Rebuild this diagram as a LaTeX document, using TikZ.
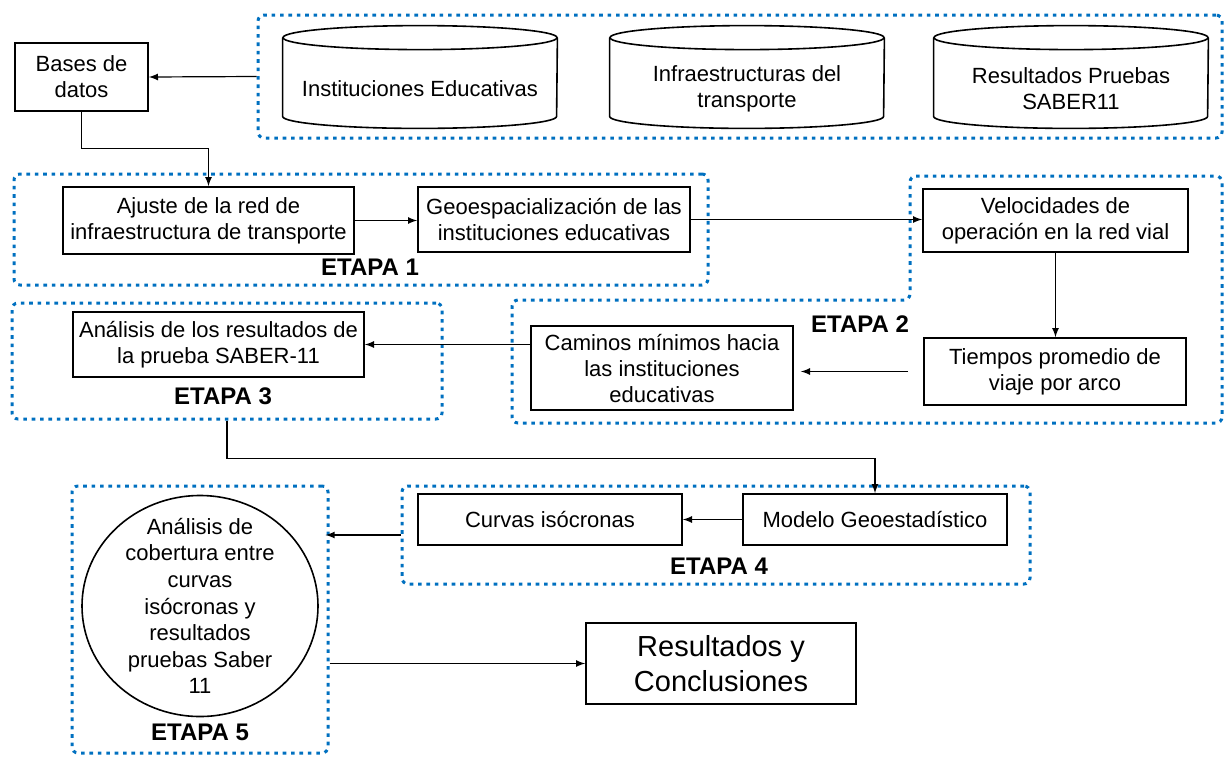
\documentclass[tikz,border=0pt]{standalone}
\usepackage{fontspec}
\setmainfont{Liberation Sans}
\usetikzlibrary{arrows,positioning,shapes.geometric}
\definecolor{etapablue}{HTML}{0070C0}

\begin{document}
\begin{tikzpicture}[x=0.5pt, y=-0.5pt,
font=\fontsize{11}{13}\selectfont,
etapa/.style={draw=etapablue, line width=1.5pt, dash pattern=on 1.8pt off 2.4pt, rounded corners=3pt},
stepbox/.style={rectangle, draw=black, line width=0.8pt, align=center, inner sep=1pt},
dbnode/.style={rectangle, align=center, minimum width=137pt, minimum height=39pt, inner sep=1pt},
etapalabel/.style={font=\fontsize{12}{14}\selectfont\bfseries},
conn/.style={-latex, line width=0.6pt},
]
\useasboundingbox (0,0) rectangle (1224,756);

% contenedores de las etapas
\node[etapa, minimum width=482pt, minimum height=61.5pt] (bd) at (740,76.5) {};
\node[etapa, minimum width=347pt, minimum height=55.5pt] (e1) at (361,229.5) {};
\draw[etapa] (910,176) -- (1222,176) -- (1222,423) -- (512,423) -- (512,300) -- (910,300) -- cycle;
\node[etapa, minimum width=215pt, minimum height=58pt] (e3) at (227,361) {};
\node[etapa, minimum width=314pt, minimum height=49pt] (e4) at (716,535) {};
\node[etapa, minimum width=128pt, minimum height=133.5pt] (e5) at (200,619.5) {};

\node[etapalabel] (lbl1) at (370,267) {ETAPA 1};
\node[etapalabel] (lbl2) at (860,324) {ETAPA 2};
\node[etapalabel] (lbl3) at (223,396) {ETAPA 3};
\node[etapalabel] (lbl4) at (719,566) {ETAPA 4};
\node[etapalabel] (lbl5) at (200,732) {ETAPA 5};

% bases de datos
\node[dbnode] (inst)  at (420,89)  {Instituciones Educativas};
\node[dbnode] (infra) at (747,89)  {Infraestructuras del\\transporte};
\node[dbnode] (saber) at (1071,89) {Resultados Pruebas\\SABER11};

\foreach \db in {inst,infra,saber}{
  \draw[line width=0.8pt] ([yshift=6pt]\db.north west) -- ([yshift=6pt]\db.south west)
    arc[start angle=180, end angle=360, x radius=68.5pt, y radius=6pt]
    -- ([yshift=6pt]\db.north east);
  \draw[line width=0.8pt] ([yshift=6pt]\db.north) ellipse [x radius=68.5pt, y radius=6pt];
}

\node[stepbox, minimum width=66.5pt, minimum height=34pt] (bases) at (81.5,77) {Bases de\\datos};

\node[stepbox, minimum width=145.5pt, minimum height=33.5pt] (ajuste)   at (208.5,220.5) {Ajuste de la red de\\infraestructura de transporte};
\node[stepbox, minimum width=136pt,   minimum height=32.5pt] (geo)      at (554,219.5)   {Geoespacialización de las\\instituciones educativas};
\node[stepbox, minimum width=132.5pt, minimum height=31.5pt] (velo)     at (1055.5,220.5){Velocidades de\\operación en la red vial};
\node[stepbox, minimum width=131pt,   minimum height=33.5pt] (tiempos)  at (1055,371.5)  {Tiempos promedio de\\viaje por arco};
\node[stepbox, minimum width=131pt,   minimum height=42pt]   (caminos)  at (662,368)     {Caminos mínimos hacia\\las instituciones\\educativas};
\node[stepbox, minimum width=145.5pt, minimum height=32.5pt] (analisis) at (218.5,344.5) {Análisis de los resultados de\\la prueba SABER-11};
\node[stepbox, minimum width=132pt,   minimum height=25.5pt] (modelo)   at (875,519.5)   {Modelo Geoestadístico};
\node[stepbox, minimum width=132pt,   minimum height=25.5pt] (curvas)   at (550,519.5)   {Curvas isócronas};

\node[ellipse, draw=black, line width=0.8pt, align=center, inner sep=-9pt,
      minimum width=118pt, minimum height=110.5pt, font=\fontsize{11}{13.3}\selectfont] (cobertura) at (200,606)
      {Análisis de\\cobertura entre\\curvas\\isócronas y\\resultados\\pruebas Saber\\11};

\node[stepbox, minimum width=135pt, minimum height=40.5pt, font=\fontsize{14.5}{17.5}\selectfont] (resultados) at (721,663.5) {Resultados y\\Conclusiones};

% flujo
\draw[conn] (bd.west) -- (bases.east);
\draw[conn] (bases.south) -- ++(0,37) -| (ajuste.north);
\draw[conn] (ajuste.east) -- (ajuste.east -| geo.west);
\draw[conn] (geo.east) -- (geo.east -| velo.west);
\draw[conn] (velo.south) -- (velo.south |- tiempos.north);
\draw[conn, shorten <=7.5pt, shorten >=3.5pt] (tiempos.west) -- (tiempos.west -| caminos.east);
\draw[conn] (analisis.east -| caminos.west) -- (analisis.east);
\draw[conn] (e3.south) -- ++(0,38) -| (modelo.north);
\draw[conn] (modelo.west) -- (curvas.east);
\draw[conn, shorten >=-2pt] (e4.west) -- (e4.west -| e5.east);
\draw[conn] (resultados.west -| e5.east) -- (resultados.west);

\end{tikzpicture}
\end{document}
